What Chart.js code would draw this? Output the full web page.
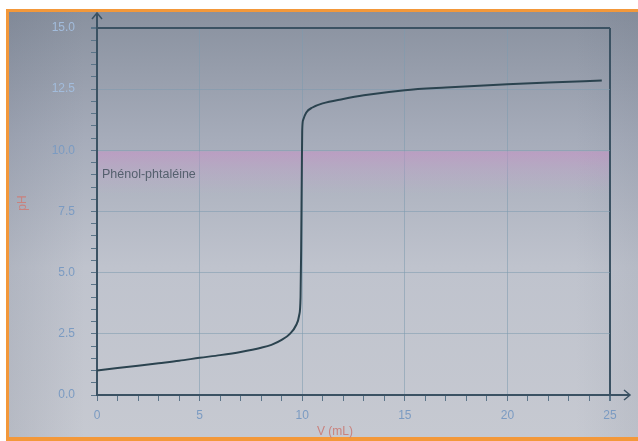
<!DOCTYPE html>
<html>
<head>
<meta charset="utf-8">
<title>Dosage pH-métrique</title>
<script src="https://cdn.jsdelivr.net/npm/chart.js@4.4.0/dist/chart.umd.min.js"></script>
<style>
  html, body { margin: 0; padding: 0; background: #fff; }
  #wrap { width: 638px; height: 441px; }
</style>
</head>
<body>
<div id="wrap"><canvas id="titration" width="638" height="441"></canvas></div>
<script>
// titration curve: volume of base added (mL) -> pH
const volumes = [0, 1, 2, 3, 4, 5, 6, 7, 8, 8.5, 9, 9.4, 9.7, 9.85, 9.92, 9.95, 9.98, 10.0, 10.05, 10.2, 10.5, 11, 12, 13, 15, 17, 20, 22, 24.6]
const phValues = [1.0, 1.1, 1.2, 1.3, 1.4, 1.52, 1.63, 1.76, 1.93, 2.05, 2.25, 2.5, 2.85, 3.25, 4.0, 6.0, 9.0, 10.8, 11.25, 11.55, 11.75, 11.92, 12.1, 12.25, 12.46, 12.57, 12.7, 12.77, 12.85]

const xLabels = [0, 5, 10, 15, 20, 25]
const yLabels = [0, 2.5, 5, 7.5, 10, 12.5, 15]

// colour change zone of the indicator
const indicatorName = 'Phénol-phtaléine'
const indicatorLow = 8.2
const indicatorHigh = 10

const axisColor = '#3b5263'
const gridColor = 'rgba(125, 155, 175, 0.55)'
const labelColor = '#7b9bc2'
const labelColorTop = '#a2bcdc'
const titleColor = '#c9827e'

Chart.defaults.font.family = '"Liberation Sans", Arial, sans-serif'

// tick values come out of the 0.5 steps with float noise
function isLabelled (list, v) {
  return list.some(t => Math.abs(t - v) < 1e-6)
}

const backdrop = {
  id: 'backdrop',
  beforeDraw (chart) {
    const ctx = chart.ctx
    const w = chart.width
    const h = chart.height
    ctx.save()
    ctx.fillStyle = '#ffffff'
    ctx.fillRect(0, 0, w, h)
    ctx.fillStyle = '#f3983a'
    ctx.fillRect(6, 9, w - 6, h - 9)
    // screen glow, darker at the top
    let g = ctx.createLinearGradient(0, 12, 0, 437)
    g.addColorStop(0, '#89919f')
    g.addColorStop(0.3, '#a6acba')
    g.addColorStop(0.6, '#bfc3cd')
    g.addColorStop(1, '#c6c9d1')
    ctx.fillStyle = g
    ctx.fillRect(9, 12, w - 9, 425)
    let side = ctx.createLinearGradient(9, 0, w, 0)
    side.addColorStop(0, 'rgba(70, 80, 100, 0.12)')
    side.addColorStop(0.12, 'rgba(70, 80, 100, 0)')
    side.addColorStop(0.9, 'rgba(70, 80, 100, 0)')
    side.addColorStop(1, 'rgba(70, 80, 100, 0.08)')
    ctx.fillStyle = side
    ctx.fillRect(9, 12, w - 9, 425)
    ctx.restore()
  }
}

const indicatorBand = {
  id: 'indicatorBand',
  beforeDatasetsDraw (chart) {
    const ctx = chart.ctx
    const area = chart.chartArea
    const y = chart.scales.y
    const top = y.getPixelForValue(indicatorHigh)
    const bottom = y.getPixelForValue(indicatorLow)
    ctx.save()
    let g = ctx.createLinearGradient(0, top, 0, bottom)
    g.addColorStop(0, 'rgba(205, 140, 200, 0.5)')
    g.addColorStop(0.4, 'rgba(205, 150, 205, 0.28)')
    g.addColorStop(1, 'rgba(205, 160, 210, 0)')
    ctx.fillStyle = g
    ctx.fillRect(area.left + 1, top + 1, area.right - area.left - 2, bottom - top)
    ctx.fillStyle = '#55606e'
    ctx.font = '12.5px "Liberation Sans", Arial, sans-serif'
    ctx.textBaseline = 'middle'
    ctx.fillText(indicatorName, area.left + 5, y.getPixelForValue(9.0))
    ctx.restore()
  }
}

const axisArrows = {
  id: 'axisArrows',
  afterDraw (chart) {
    const ctx = chart.ctx
    const area = chart.chartArea
    const x0 = chart.scales.x.getPixelForValue(0)
    const y0 = chart.scales.y.getPixelForValue(0)
    ctx.save()
    ctx.strokeStyle = axisColor
    ctx.lineWidth = 2
    ctx.beginPath()
    ctx.moveTo(x0, area.top)
    ctx.lineTo(x0, 13)
    ctx.moveTo(area.right, y0)
    ctx.lineTo(630, y0)
    ctx.stroke()
    ctx.lineWidth = 1.5
    ctx.beginPath()
    ctx.moveTo(x0 - 5, 19)
    ctx.lineTo(x0, 13)
    ctx.lineTo(x0 + 5, 19)
    ctx.moveTo(624, y0 - 5)
    ctx.lineTo(630, y0)
    ctx.lineTo(624, y0 + 5)
    ctx.stroke()

    // axis titles
    ctx.fillStyle = titleColor
    ctx.font = '12px "Liberation Sans", Arial, sans-serif'
    ctx.textAlign = 'center'
    ctx.textBaseline = 'middle'
    ctx.fillText('V (mL)', 335, 432)
    ctx.translate(23, 203)
    ctx.rotate(-Math.PI / 2)
    ctx.fillText('pH', 0, 0)
    ctx.restore()
  }
}

const points = volumes.map((v, i) => ({ x: v, y: phValues[i] }))

new Chart(document.getElementById('titration'), {
  type: 'scatter',
  data: {
    datasets: [{
      label: 'pH',
      data: points,
      showLine: true,
      borderColor: '#2b434f',
      borderWidth: 2,
      pointRadius: 0,
      cubicInterpolationMode: 'monotone'
    }]
  },
  options: {
    responsive: false,
    animation: false,
    devicePixelRatio: 1,
    layout: { padding: { top: 28, right: 28, left: 0, bottom: 0 } },
    plugins: {
      legend: { display: false },
      tooltip: { enabled: false }
    },
    scales: {
      x: {
        type: 'linear',
        min: 0,
        max: 25,
        afterFit (scale) { scale.height = 46 },
        ticks: {
          stepSize: 1,
          autoSkip: false,
          maxRotation: 0,
          padding: 7,
          color: labelColor,
          font: { size: 12 },
          callback: v => isLabelled(xLabels, v) ? String(Math.round(v)) : ''
        },
        border: { color: axisColor, width: 2 },
        grid: {
          tickLength: 6,
          tickColor: '#5a7488',
          color: ctx => {
            const v = ctx.tick ? ctx.tick.value : null
            if (v === 25) return axisColor
            return isLabelled(xLabels, v) && v > 0 ? gridColor : 'rgba(0,0,0,0)'
          },
          lineWidth: ctx => (ctx.tick && ctx.tick.value === 25) ? 2 : 1
        }
      },
      y: {
        min: 0,
        max: 15,
        afterFit (scale) { scale.width = 97 },
        ticks: {
          stepSize: 0.5,
          autoSkip: false,
          padding: 16,
          // the screen is darker near the top, labels there read lighter
          color: ctx => (ctx.tick && ctx.tick.value >= 12.5) ? labelColorTop : labelColor,
          font: { size: 12 },
          callback: v => isLabelled(yLabels, v) ? v.toFixed(1) : ''
        },
        border: { color: axisColor, width: 2 },
        grid: {
          tickLength: 6,
          tickColor: '#5a7488',
          color: ctx => {
            const v = ctx.tick ? ctx.tick.value : null
            if (v === 15) return axisColor
            return isLabelled(yLabels, v) && v > 0 ? gridColor : 'rgba(0,0,0,0)'
          },
          lineWidth: ctx => (ctx.tick && ctx.tick.value === 15) ? 2 : 1
        }
      }
    }
  },
  plugins: [backdrop, indicatorBand, axisArrows]
})
</script>
</body>
</html>
